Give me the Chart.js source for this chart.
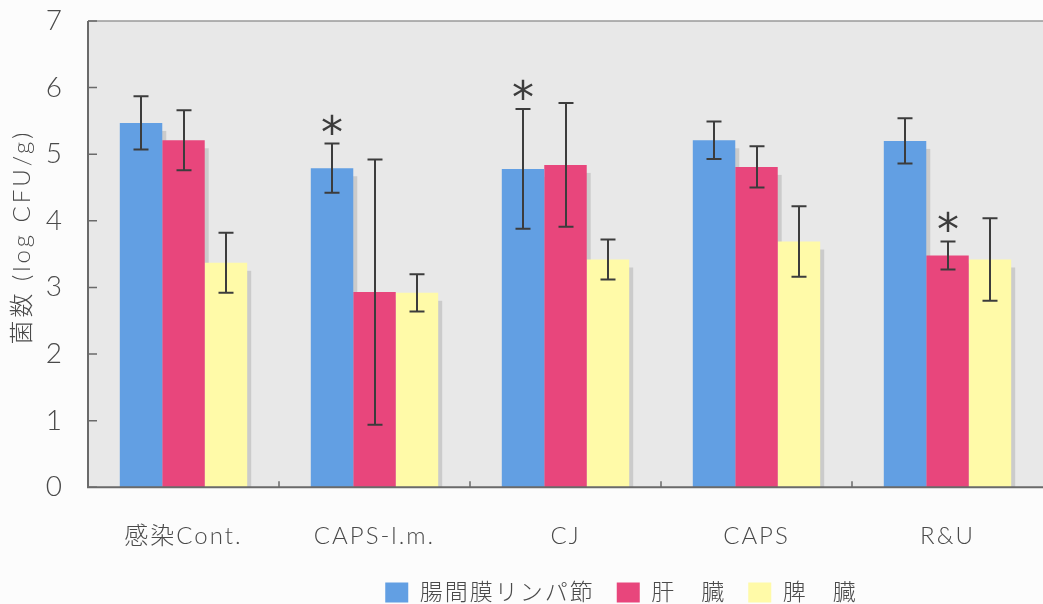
<!DOCTYPE html>
<html>
<head>
<meta charset="utf-8">
<script src="https://cdn.jsdelivr.net/npm/chart.js@4.4.1/dist/chart.umd.min.js"></script>
<style>
  html, body { margin: 0; padding: 0; background: #fcfcfc; }
  #wrap { width: 1043px; height: 604px; position: relative; }
</style>
</head>
<body>
<div id="wrap"><canvas id="chart"></canvas></div>
<script>
// Groups on the x axis
const categories = ['感染Cont.', 'CAPS-l.m.', 'CJ', 'CAPS', 'R&U'];
// Organs (series)
const seriesNames = ['腸間膜リンパ節', '肝　臓', '脾　臓'];
// Mean bacterial counts, log CFU/g
const lymphNode = [5.47, 4.79, 4.78, 5.21, 5.20];
const liver     = [5.21, 2.93, 4.84, 4.81, 3.48];
const spleen    = [3.37, 2.92, 3.42, 3.69, 3.42];
// Standard deviations
const lymphNodeSD = [0.40, 0.37, 0.90, 0.28, 0.34];
const liverSD     = [0.45, 1.99, 0.93, 0.31, 0.21];
const spleenSD    = [0.45, 0.28, 0.30, 0.53, 0.62];
// Significance marks (*)
const lymphNodeSig = ['', '*', '*', '', ''];
const liverSig     = ['', '', '', '', '*'];
const spleenSig    = ['', '', '', '', ''];
// Value axis
const yMin = 0, yMax = 7, yStep = 1;
const yTitle = '菌数 (log CFU/g)';

const sdBySeries = [lymphNodeSD, liverSD, spleenSD];
const sigBySeries = [lymphNodeSig, liverSig, spleenSig];

const FONT = 'Lato, "Noto Sans CJK JP", sans-serif';
const TEXT = '#4a4a4a';
const AXIS = '#6a6a6a';

const setSpacing = (chart) => { chart.ctx.letterSpacing = '2px'; };

// Grey plot background and letter spacing for all canvas text
const plotBackground = {
  id: 'plotBackground',
  beforeLayout(chart) { setSpacing(chart); },
  beforeDraw(chart) {
    setSpacing(chart);
    const { ctx, chartArea: a } = chart;
    ctx.save();
    ctx.fillStyle = '#e8e8e8';
    ctx.fillRect(a.left, a.top, a.right - a.left, a.bottom - a.top);
    ctx.restore();
  }
};

// Soft offset shadow behind every bar
const barShadow = {
  id: 'barShadow',
  beforeDatasetsDraw(chart) {
    const { ctx, chartArea: a } = chart;
    ctx.save();
    ctx.beginPath();
    ctx.rect(a.left, a.top, a.right - a.left, a.bottom - a.top);
    ctx.clip();
    ctx.fillStyle = 'rgba(0,0,0,0.12)';
    chart.data.datasets.forEach((ds, i) => {
      const meta = chart.getDatasetMeta(i);
      if (meta.hidden) return;
      meta.data.forEach(bar => {
        const w = bar.width;
        ctx.fillRect(bar.x - w / 2 + 4, bar.y + 8, w, bar.base - bar.y - 8);
      });
    });
    ctx.restore();
  }
};

// Frame, inward tick marks, error bars and significance asterisks
const overlay = {
  id: 'overlay',
  afterDatasetsDraw(chart) {
    const { ctx, chartArea: a, scales: { x, y } } = chart;
    ctx.save();
    ctx.lineCap = 'butt';
    // top border
    ctx.strokeStyle = '#9a9a9a';
    ctx.lineWidth = 1.5;
    ctx.beginPath();
    ctx.moveTo(a.left, a.top); ctx.lineTo(a.right, a.top);
    ctx.stroke();
    // left and bottom axes
    ctx.strokeStyle = AXIS;
    ctx.lineWidth = 2;
    ctx.beginPath();
    ctx.moveTo(a.left, a.top); ctx.lineTo(a.left, a.bottom); ctx.lineTo(a.right, a.bottom);
    ctx.stroke();
    // y ticks, pointing into the plot
    ctx.lineWidth = 1.5;
    ctx.beginPath();
    y.ticks.forEach(t => {
      const py = y.getPixelForValue(t.value);
      ctx.moveTo(a.left, py); ctx.lineTo(a.left + 9, py);
    });
    // x ticks between groups, pointing up
    for (let i = 1; i < categories.length; i++) {
      const px = (x.getPixelForTick(i - 1) + x.getPixelForTick(i)) / 2;
      ctx.moveTo(px, a.bottom); ctx.lineTo(px, a.bottom - 6);
    }
    ctx.stroke();

    // error bars
    ctx.strokeStyle = '#3c3c3c';
    ctx.lineWidth = 2;
    chart.data.datasets.forEach((ds, i) => {
      const meta = chart.getDatasetMeta(i);
      if (meta.hidden) return;
      meta.data.forEach((bar, j) => {
        const v = ds.data[j], sd = sdBySeries[i][j];
        const top = y.getPixelForValue(v + sd);
        const bot = y.getPixelForValue(v - sd);
        const cx = Math.round(bar.x);
        ctx.beginPath();
        ctx.moveTo(cx, top); ctx.lineTo(cx, bot);
        ctx.moveTo(cx - 7.5, top); ctx.lineTo(cx + 7.5, top);
        ctx.moveTo(cx - 7.5, bot); ctx.lineTo(cx + 7.5, bot);
        ctx.stroke();
        const mark = sigBySeries[i][j];
        if (mark) {
          ctx.fillStyle = '#3c3c3c';
          ctx.font = '44px "DejaVu Sans"';
          ctx.textAlign = 'center';
          ctx.textBaseline = 'alphabetic';
          ctx.letterSpacing = '0px';
          ctx.fillText(mark, cx, top - 20 + 24);
          setSpacing(chart);
        }
      });
    });
    ctx.restore();
  },
  afterDraw(chart) {
    // rotated value-axis title
    const { ctx } = chart;
    ctx.save();
    ctx.translate(22, 237);
    ctx.rotate(-Math.PI / 2);
    ctx.fillStyle = TEXT;
    ctx.font = '300 24px ' + FONT;
    ctx.letterSpacing = '3px';
    ctx.textAlign = 'center';
    ctx.textBaseline = 'middle';
    ctx.fillText(yTitle, 0, 0);
    ctx.restore();
  },
  afterLayout(chart) {
    // place the legend row under the group labels
    const lg = chart.legend;
    if (!lg) return;
    const h = lg.bottom - lg.top;
    const shift = 100;
    lg.left += shift; lg.right += shift;
    lg.top = 604 - h + 10; lg.bottom = 614;
  }
};

const colors = ['#629fe3', '#e8467c', '#fffaa8'];
const values = [lymphNode, liver, spleen];

new Chart(document.getElementById('chart'), {
  type: 'bar',
  data: {
    labels: categories,
    datasets: seriesNames.map((name, i) => ({
      label: name,
      data: values[i],
      backgroundColor: colors[i],
      borderWidth: 0,
      categoryPercentage: 0.667,
      barPercentage: 1.0
    }))
  },
  options: {
    responsive: true,
    maintainAspectRatio: false,
    animation: false,
    layout: { padding: { top: 21, right: 0, bottom: 0, left: 0 } },
    plugins: {
      legend: {
        position: 'bottom',
        labels: {
          boxWidth: 23,
          boxHeight: 20,
          padding: 22,
          color: TEXT,
          font: { family: FONT, size: 23, weight: 300 }
        }
      },
      tooltip: { enabled: false }
    },
    scales: {
      x: {
        offset: true,
        grid: { display: false, drawTicks: false },
        border: { display: false },
        ticks: {
          color: TEXT,
          padding: 35,
          font: { family: FONT, size: 24, weight: 300 }
        },
        afterFit(scale) { scale.height = 61.7; }
      },
      y: {
        min: yMin,
        max: yMax,
        // invisible tick length keeps the labels clear of the axis
        grid: { display: false, drawTicks: true, tickLength: 22 },
        border: { display: false },
        ticks: {
          stepSize: yStep,
          color: TEXT,
          padding: 2,
          font: { family: FONT, size: 28, weight: 300 }
        },
        afterFit(scale) { scale.width = 88; }
      }
    }
  },
  plugins: [plotBackground, barShadow, overlay]
});
</script>
</body>
</html>
